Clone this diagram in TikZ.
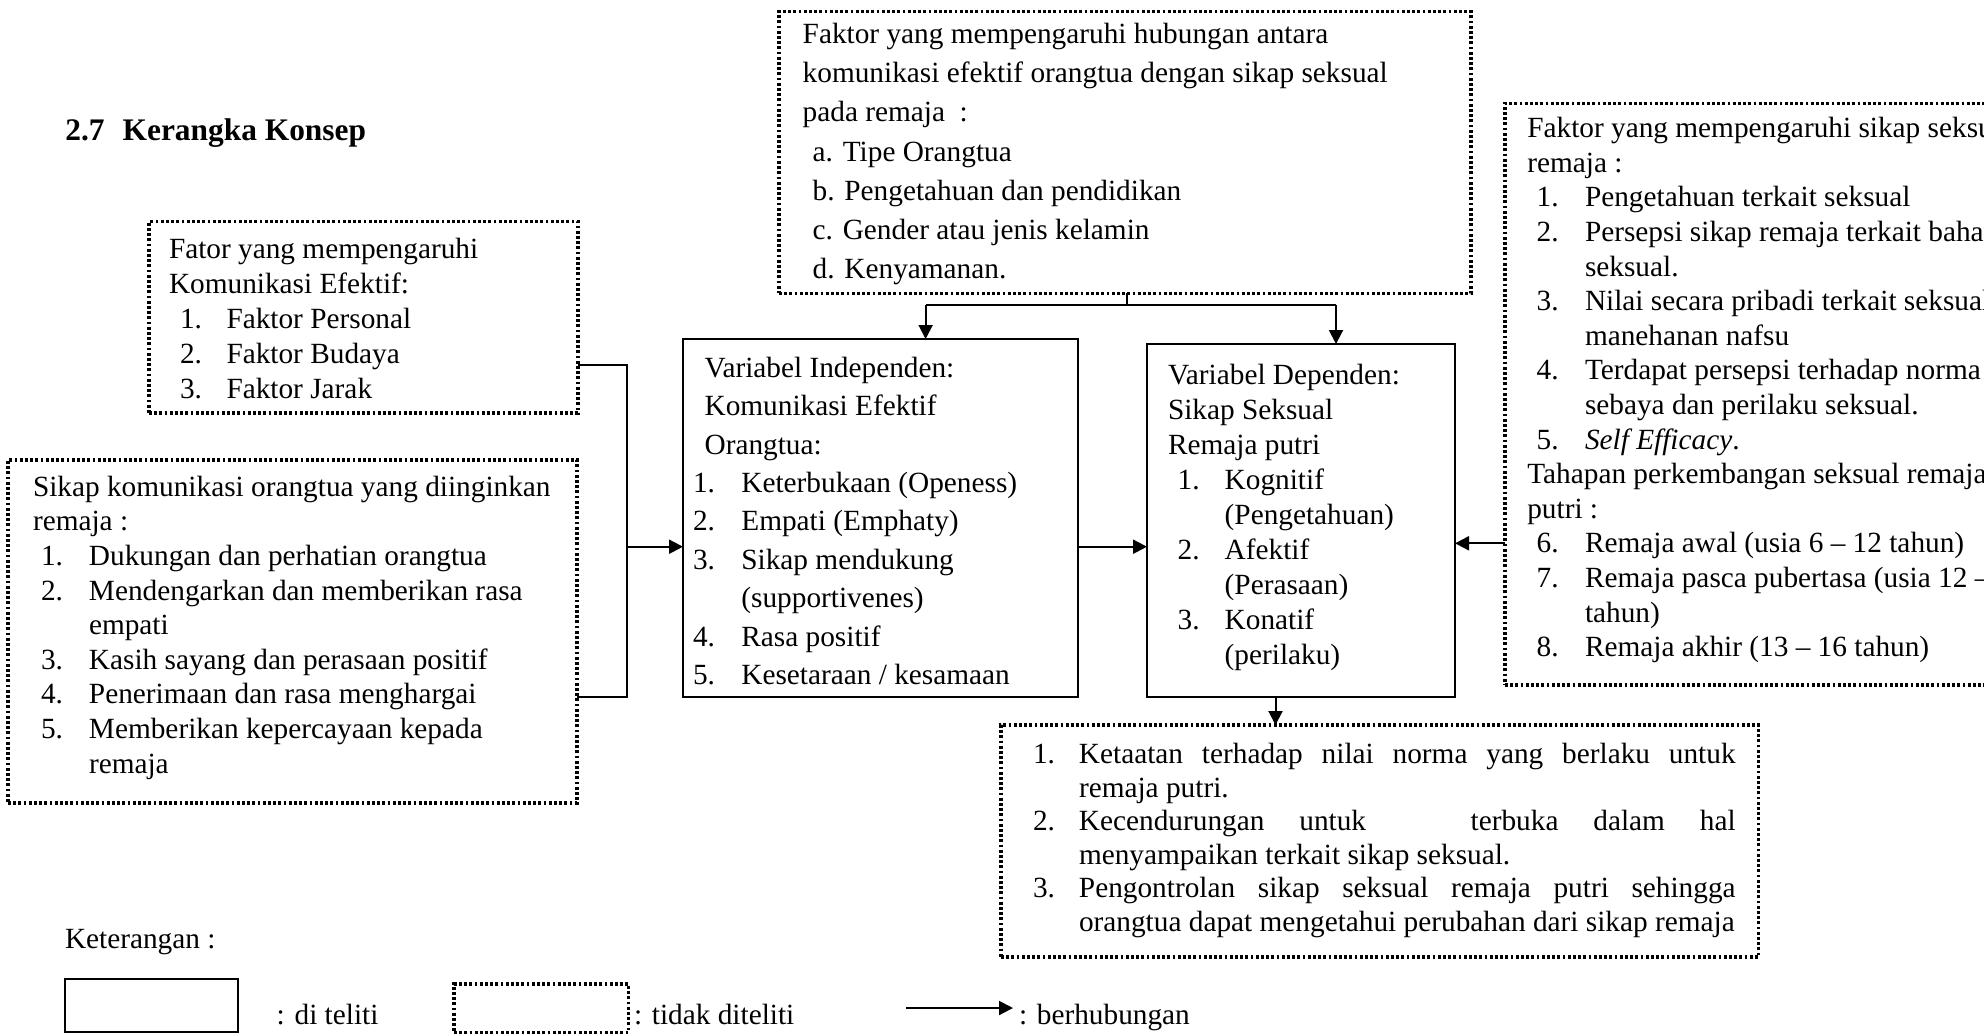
\documentclass[tikz,border=0pt]{standalone}
\usepackage{fontspec}
\setmainfont{Liberation Serif}
\usetikzlibrary{arrows.meta,fit}
\newcommand\lnum[3]{\hspace*{#1}\makebox[#2][l]{#3}}
\begin{document}
\begin{tikzpicture}[x=0.5pt,y=-0.5pt,
  solidbox/.style={draw, line width=1pt, inner sep=0pt, outer sep=0pt},
  dotbox/.style={draw, line width=1.6pt, dash pattern=on 1.4pt off 1.2pt, inner sep=0pt, outer sep=0pt},
  txt/.style={inner sep=0pt, outer sep=0pt, align=left, anchor=north west},
  lbl/.style={inner sep=0pt, outer sep=0pt, anchor=base west, font=\fontsize{14.65pt}{17.3pt}\selectfont},
  conn/.style={line width=1pt},
  arr/.style={line width=1pt, -{Triangle[length=7pt,width=7pt]}},
  fs/.style={font=\fontsize{14.65pt}{#1}\selectfont}
]
\useasboundingbox (0,0) rectangle (1984,1034);
\fill[white] (0,0) rectangle (1984,1034);
\clip (0,0) rectangle (1984,1034);

% ---------- boxes ----------
\node[dotbox, fit={(779,11.7) (1471,293.3)}] (topbox) {};
\node[dotbox, fit={(149,221.7) (578,413)}] (fator) {};
\node[dotbox, fit={(8,460) (577,803)}] (sikap) {};
\node[solidbox, fit={(683,339) (1078,697)}] (indep) {};
\node[solidbox, fit={(1147,344) (1455,697)}] (dep) {};
\node[dotbox, fit={(1505,103.3) (2060,685)}] (rbox) {};
\node[dotbox, fit={(1001,725) (1758.6,957)}] (bbox) {};

% ---------- title ----------
\node[inner sep=0pt, anchor=base west, font=\fontsize{15.7pt}{18pt}\selectfont\bfseries] (title) at (65,140) {2.7\hspace{9pt}Kerangka Konsep};

% ---------- texts ----------
\node[txt, fs=19.6pt] (toptxt) at (802.7,16) {\strut Faktor yang mempengaruhi hubungan antara\\
komunikasi efektif orangtua dengan sikap seksual\\
pada remaja\ \ :\\
\hspace*{5pt}a. Tipe Orangtua\\
\hspace*{5pt}b. Pengetahuan dan pendidikan\\
\hspace*{5pt}c. Gender atau jenis kelamin\\
\hspace*{5pt}d. Kenyamanan.};

\node[txt, fs=17.5pt] (fatortxt) at (169,233.7) {\strut Fator yang mempengaruhi\\
Komunikasi Efektif:\\
\lnum{5.5pt}{23.25pt}{1.}Faktor Personal\\
\lnum{5.5pt}{23.25pt}{2.}Faktor Budaya\\
\lnum{5.5pt}{23.25pt}{3.}Faktor Jarak};

\node[txt, fs=17.3pt] (sikaptxt) at (33,472) {\strut Sikap komunikasi orangtua yang diinginkan\\
remaja :\\
\lnum{4pt}{24pt}{1.}Dukungan dan perhatian orangtua\\
\lnum{4pt}{24pt}{2.}Mendengarkan dan memberikan rasa\\
\hspace*{28pt}empati\\
\lnum{4pt}{24pt}{3.}Kasih sayang dan perasaan positif\\
\lnum{4pt}{24pt}{4.}Penerimaan dan rasa menghargai\\
\lnum{4pt}{24pt}{5.}Memberikan kepercayaan kepada\\
\hspace*{28pt}remaja};

\node[txt, fs=19.2pt] (indeptxt) at (693,350.5) {\strut\hspace*{5.8pt}Variabel Independen:\\
\hspace*{5.8pt}Komunikasi Efektif\\
\hspace*{5.8pt}Orangtua:\\
\lnum{0pt}{24.2pt}{1.}Keterbukaan (Openess)\\
\lnum{0pt}{24.2pt}{2.}Empati (Emphaty)\\
\lnum{0pt}{24.2pt}{3.}Sikap mendukung\\
\hspace*{24.2pt}(supportivenes)\\
\lnum{0pt}{24.2pt}{4.}Rasa positif\\
\lnum{0pt}{24.2pt}{5.}Kesetaraan / kesamaan};

\node[txt, fs=17.5pt] (deptxt) at (1168,359.5) {\strut Variabel Dependen:\\
Sikap Seksual\\
Remaja putri\\
\lnum{4.85pt}{23.5pt}{1.}Kognitif\\
\hspace*{28.35pt}(Pengetahuan)\\
\lnum{4.85pt}{23.5pt}{2.}Afektif\\
\hspace*{28.35pt}(Perasaan)\\
\lnum{4.85pt}{23.5pt}{3.}Konatif\\
\hspace*{28.35pt}(perilaku)};

\node[txt, fs=17.3pt] (rtxt) at (1527.3,113.5) {\strut Faktor yang mempengaruhi sikap seksual\\
remaja :\\
\lnum{4.7pt}{24.15pt}{1.}Pengetahuan terkait seksual\\
\lnum{4.7pt}{24.15pt}{2.}Persepsi sikap remaja terkait bahaya\\
\hspace*{28.85pt}seksual.\\
\lnum{4.7pt}{24.15pt}{3.}Nilai secara pribadi terkait seksual\\
\hspace*{28.85pt}manehanan nafsu\\
\lnum{4.7pt}{24.15pt}{4.}Terdapat persepsi terhadap norma\\
\hspace*{28.85pt}sebaya dan perilaku seksual.\\
\lnum{4.7pt}{24.15pt}{5.}\textit{Self Efficacy}.\\
Tahapan perkembangan seksual remaja\\
putri :\\
\lnum{4.7pt}{24.15pt}{6.}Remaja awal (usia 6 – 12 tahun)\\
\lnum{4.7pt}{24.15pt}{7.}Remaja pasca pubertasa (usia 12 –\\
\hspace*{28.85pt}tahun)\\
\lnum{4.7pt}{24.15pt}{8.}Remaja akhir (13 – 16 tahun)};

\node[txt, fs=16.75pt] (btxt) at (1033,740.5) {\strut\makebox[23pt][l]{1.}\makebox[328.3pt][s]{Ketaatan terhadap nilai norma yang berlaku untuk}\\
\hspace*{23pt}remaja putri.\\
\makebox[23pt][l]{2.}\makebox[328.3pt][s]{Kecendurungan untuk\ \ \ terbuka dalam hal}\\
\hspace*{23pt}menyampaikan terkait sikap seksual.\\
\makebox[23pt][l]{3.}\makebox[328.3pt][s]{Pengontrolan sikap seksual remaja putri sehingga}\\
\hspace*{23pt}orangtua dapat mengetahui perubahan dari sikap remaja};

% ---------- connectors ----------
\coordinate (tj) at (1127,305);
\coordinate (tl) at (925.6,305);
\coordinate (tr) at (1336,305);
\draw[conn] (topbox.south -| tj) -- (tj);
\draw[conn] (tl) -- (tr);
\draw[arr] (tl) -- (indep.north -| tl);
\draw[arr] (tr) -- (dep.north -| tr);

\coordinate (lj1) at (627,365);
\coordinate (lj2) at (627,697);
\coordinate (lj3) at (627,546.7);
\draw[conn] (fator.east |- lj1) -- (lj1) -- (lj2) -- (sikap.east |- lj2);
\draw[arr] (lj3) -- (indep.west |- lj3);

\coordinate (mj) at (1100,546.7);
\draw[arr] (indep.east |- mj) -- (dep.west |- mj);

\coordinate (rj) at (1480,543.3);
\draw[arr] (rbox.west |- rj) -- (dep.east |- rj);

\coordinate (bj) at (1275.5,710);
\draw[arr] (dep.south -| bj) -- (bbox.north -| bj);

% ---------- legend ----------
\node[lbl] (ket) at (65,948) {Keterangan :};
\node[solidbox, fit={(65,979) (238.3,1031.7)}] (legsolid) {};
\node[lbl] (legsolidtxt) at (276.7,1024) {: di teliti};
\node[dotbox, fit={(454,984) (628.5,1032.7)}] (legdot) {};
\node[lbl] (legdottxt) at (634,1024) {: tidak diteliti};
\coordinate (la1) at (906,1008);
\coordinate (la2) at (1013,1008);
\node[lbl] (legarrtxt) at (1019,1024) {: berhubungan};
\draw[arr] (la1) -- (la2);
\end{tikzpicture}
\end{document}
